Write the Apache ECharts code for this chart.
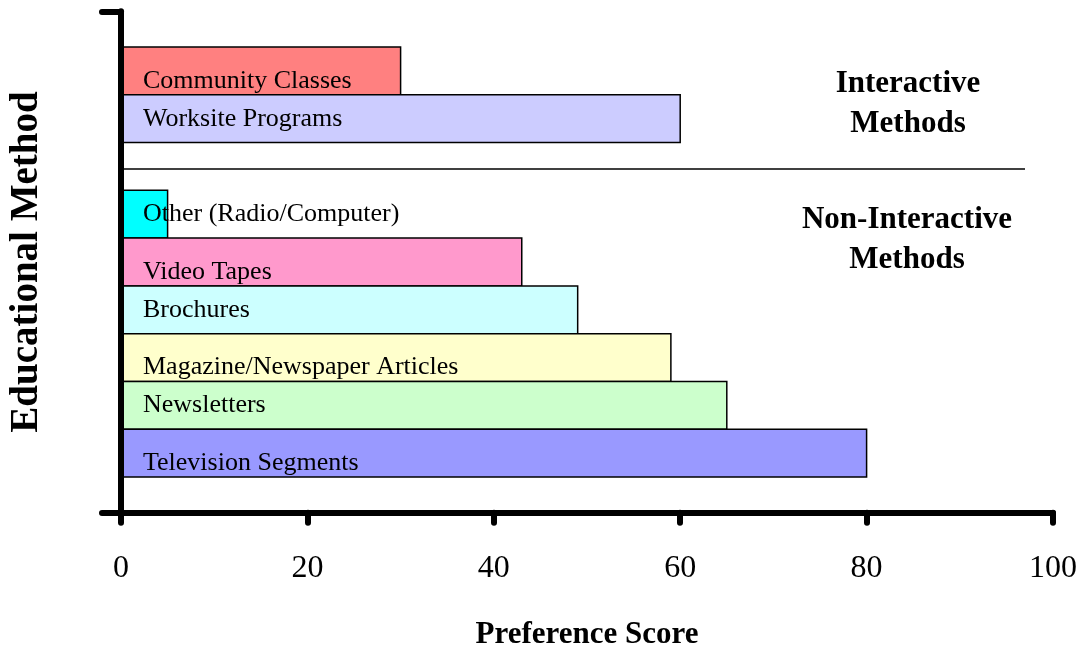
<!DOCTYPE html>
<html><head><meta charset="utf-8">
<script src="https://cdn.jsdelivr.net/npm/echarts@6/dist/echarts.min.js"></script>
<style>html,body{margin:0;padding:0;background:#fff}#c{width:1081px;height:651px}</style>
</head><body><div id="c"></div>
<script>
// ---- data ----
const categories = ['Community Classes','Worksite Programs','Other (Radio/Computer)','Video Tapes','Brochures','Magazine/Newspaper Articles','Newsletters','Television Segments'];
const values = [30, 60, 5, 43, 49, 59, 65, 80];
const groups = ['Interactive','Interactive','Non-Interactive','Non-Interactive','Non-Interactive','Non-Interactive','Non-Interactive','Non-Interactive'];
const groupTitles = ['Interactive\nMethods', 'Non-Interactive\nMethods'];
const xTicks = [0, 20, 40, 60, 80, 100];
const separatorEnd = 97;
const separatorSlot = 2.05;

// ---- styles ----
const barColors = ['#FF8080','#CCCCFF','#00FFFF','#FF99CC','#CCFFFF','#FFFFCC','#CCFFCC','#9999FF'];
const lowLabels = new Set(['Community Classes','Video Tapes','Magazine/Newspaper Articles','Television Segments']);
const serif = '"Liberation Serif", "Times New Roman", serif';

// slot index: category order with one empty slot between groups
const groupOrder = [...new Set(groups)];
const slots = categories.map((c, i) => i + groupOrder.indexOf(groups[i]));

const chart = echarts.init(document.getElementById('c'), null, {renderer: 'canvas'});
chart.setOption({
  animation: false,
  backgroundColor: '#fff',
  grid: {left: 121, right: 28, top: 11.3, bottom: 651 - 512.7, containLabel: false, outerBoundsMode: 'none'},
  xAxis: {
    type: 'value', min: xTicks[0], max: xTicks[xTicks.length - 1], interval: xTicks[1] - xTicks[0],
    z: 10,
    splitLine: {show: false},
    axisLine: {show: true, onZero: false, lineStyle: {color: '#000', width: 6, cap: 'round'}},
    axisTick: {show: true, length: 10, lineStyle: {color: '#000', width: 6, cap: 'round'}},
    axisLabel: {color: '#000', fontSize: 32, fontFamily: serif, margin: 40},
    name: 'Preference Score', nameLocation: 'middle', nameGap: 107,
    nameTextStyle: {color: '#000', fontSize: 31, fontWeight: 'bold', fontFamily: serif}
  },
  yAxis: {
    type: 'value', inverse: true, min: -1.25, max: 9.25,
    z: 10,
    splitLine: {show: false},
    axisLine: {show: true, onZero: false, lineStyle: {color: '#000', width: 6, cap: 'round'}},
    axisTick: {show: true, customValues: [-1.25, 9.25], length: 19, lineStyle: {color: '#000', width: 6, cap: 'round'}},
    axisLabel: {show: false},
    name: 'Educational Method', nameLocation: 'middle', nameGap: 75,
    nameTextStyle: {color: '#000', fontSize: 39, fontWeight: 'bold', fontFamily: serif}
  },
  graphic: [
    {type: 'text', x: 908, y: 104, style: {text: groupTitles[0], font: 'bold 31px ' + serif, fill: '#000', textAlign: 'center', textVerticalAlign: 'middle', lineHeight: 40}},
    {type: 'text', x: 907, y: 239.5, style: {text: groupTitles[1], font: 'bold 31px ' + serif, fill: '#000', textAlign: 'center', textVerticalAlign: 'middle', lineHeight: 40}}
  ],
  series: [
    {
      type: 'custom',
      z: 2,
      data: categories.map((c, i) => [values[i], slots[i], i]),
      encode: {x: 0, y: 1},
      renderItem: function (params, api) {
        const v = api.value(0), s = api.value(1), i = api.value(2);
        const p0 = api.coord([0, s - 0.5]);
        const p1 = api.coord([v, s + 0.5]);
        const x = p0[0], y = Math.min(p0[1], p1[1]);
        const w = p1[0] - p0[0], h = Math.abs(p1[1] - p0[1]);
        return {
          type: 'group',
          children: [
            {type: 'rect', z2: 0, shape: {x: x, y: y, width: w, height: h},
             style: {fill: barColors[i], stroke: '#000', lineWidth: 1.5}},
            {type: 'text', z2: 100, x: x + 22, y: y + h / 2 + (lowLabels.has(categories[i]) ? 10 : 0),
             style: {text: categories[i], fill: '#000', font: '26px ' + serif, textAlign: 'left', textVerticalAlign: 'middle'}}
          ]
        };
      }
    },
    {
      type: 'line', z: 3, silent: true, symbol: 'none',
      data: [[0, separatorSlot], [separatorEnd, separatorSlot]],
      lineStyle: {color: '#000', width: 1.5}
    }
  ]
});
</script>
</body></html>
